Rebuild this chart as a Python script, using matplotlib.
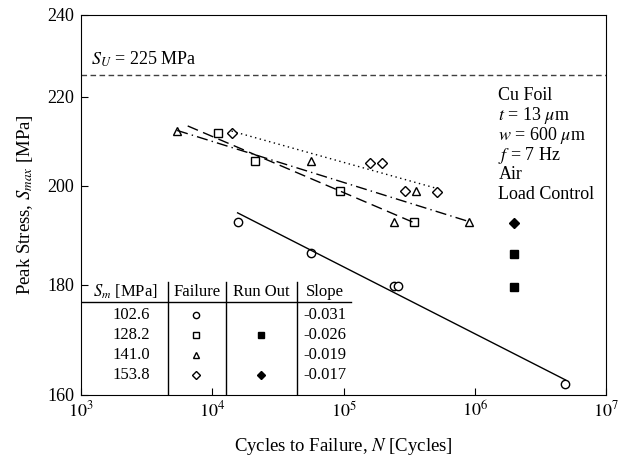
import matplotlib
matplotlib.use("Agg")
import matplotlib.pyplot as plt
import numpy as np
from matplotlib.ticker import NullLocator, FixedLocator, FixedFormatter

plt.rcParams['font.family'] = ['Liberation Serif', 'DejaVu Serif']
plt.rcParams['mathtext.fontset'] = 'stix'

# mean stress levels and Basquin slopes (from the table)
sm_levels = ["102.6", "128.2", "141.0", "153.8"]
slopes = [-0.031, -0.026, -0.019, -0.017]
markers = ["o", "s", "^", "D"]
styles = ["-", (0, (8, 4)), (0, (8, 3, 1, 3)), (0, (1, 2.5))]

# failure data, cycles and peak stress [MPa]
n_1026 = [15600, 56300, 242000, 262000, 4.9e6]
s_1026 = [192.4, 186.2, 179.8, 179.8, 161.9]
n_1282 = [11000, 21300, 93300, 343600]
s_1282 = [211.6, 205.4, 198.9, 192.4]
n_1410 = [5400, 56300, 242700, 355600, 908000]
s_1410 = [212.0, 205.4, 192.4, 198.9, 192.4]
n_1538 = [14030, 160000, 196900, 294000, 512000]
s_1538 = [211.6, 205.0, 205.0, 198.9, 198.6]

# fitted line extents
line_start = [15600, 6500, 5400, 14030]
line_end = [4.9e6, 343600, 908000, 512000]

# run outs
n_runout = [2e6, 2e6, 2e6]
s_runout = [192.2, 186.0, 179.6]
m_runout = ["D", "s", "s"]

s_uts = 225
notes = ["Cu Foil", r"$t$ = 13 $\mu$m", r"$w$ = 600 $\mu$m", r"$f$ = 7 Hz", "Air", "Load Control"]

series = [(n_1026, s_1026), (n_1282, s_1282), (n_1410, s_1410), (n_1538, s_1538)]

fig = plt.figure(figsize=(6.21, 4.61), dpi=100)
ax = fig.add_axes([0.1304, 0.1432, 0.8456, 0.8243])
ax.set_xscale("log")
ax.set_yscale("log")

for (n, s), b, m, ls, n0, n1 in zip(series, slopes, markers, styles, line_start, line_end):
    n = np.array(n, dtype=float)
    s = np.array(s, dtype=float)
    ax.plot(n, s, m, mfc="white", mec="black", ms=6 if m != "D" else 5, mew=1, ls="none")
    loga = np.mean(np.log10(s) - b * np.log10(n))
    nn = np.array([n0, n1], dtype=float)
    ax.plot(nn, 10 ** (loga + b * np.log10(nn)), color="black", lw=1, ls=ls)

for n, s, m in zip(n_runout, s_runout, m_runout):
    ax.plot(n, s, m, color="black", ms=6 if m == "s" else 5.5)

ax.axhline(s_uts, color="0.25", lw=1, ls=(0, (4, 2.5)))
ax.text(1.2e3, 229, r"$S_U$ = 225 MPa", fontsize=13, va="center")

for i, t in enumerate(notes):
    ax.text(0.795, 0.789 - i * 0.0525, t, transform=ax.transAxes, fontsize=13, va="center")

# table in the lower left corner
tr = ax.transAxes
rows_y = [0.2105, 0.158, 0.105, 0.053]
ax.text(0.085, 0.271, r"$S_m$ [MPa]", transform=tr, fontsize=12, ha="center", va="center")
ax.text(0.221, 0.271, "Failure", transform=tr, fontsize=12, ha="center", va="center")
ax.text(0.343, 0.271, "Run Out", transform=tr, fontsize=12, ha="center", va="center")
ax.text(0.428, 0.271, "Slope", transform=tr, fontsize=12, ha="left", va="center")
ax.plot([0.0, 0.515], [0.245, 0.245], color="black", lw=1, transform=tr)
for xv in [0.166, 0.2755, 0.411]:
    ax.plot([xv, xv], [0.0, 0.297], color="black", lw=1, transform=tr)
for y, lab, b, m in zip(rows_y, sm_levels, slopes, markers):
    ax.text(0.096, y, lab, transform=tr, fontsize=12, ha="center", va="center")
    ax.plot(0.219, y, m, mfc="white", mec="black", ms=4.5 if m != "D" else 4, mew=1, transform=tr)
    ax.text(0.423, y, f"{b:.3f}", transform=tr, fontsize=12, ha="left", va="center")
ax.plot(0.343, rows_y[1], "s", color="black", ms=5, transform=tr)
ax.plot(0.343, rows_y[3], "D", color="black", ms=4.5, transform=tr)

ax.set_xlim(1e3, 1e7)
ax.set_ylim(160, 240)
ax.xaxis.set_major_locator(FixedLocator([1e3, 1e4, 1e5, 1e6, 1e7]))
ax.xaxis.set_major_formatter(FixedFormatter([r"$10^3$", r"$10^4$", r"$10^5$", r"$10^6$", r"$10^7$"]))
ax.xaxis.set_minor_locator(NullLocator())
ax.yaxis.set_major_locator(FixedLocator([160, 180, 200, 220, 240]))
ax.yaxis.set_major_formatter(FixedFormatter(["160", "180", "200", "220", "240"]))
ax.yaxis.set_minor_locator(NullLocator())
ax.tick_params(direction="in", length=5, labelsize=13)
ax.tick_params(axis="x", pad=4)
ax.tick_params(axis="y", pad=5)

ax.set_xlabel(r"Cycles to Failure, $N$ [Cycles]", fontsize=13.5, labelpad=11)
ax.set_ylabel(r"Peak Stress, $S_{max}$ [MPa]", fontsize=13.5, labelpad=9)

fig.savefig("out.png", dpi=100)
